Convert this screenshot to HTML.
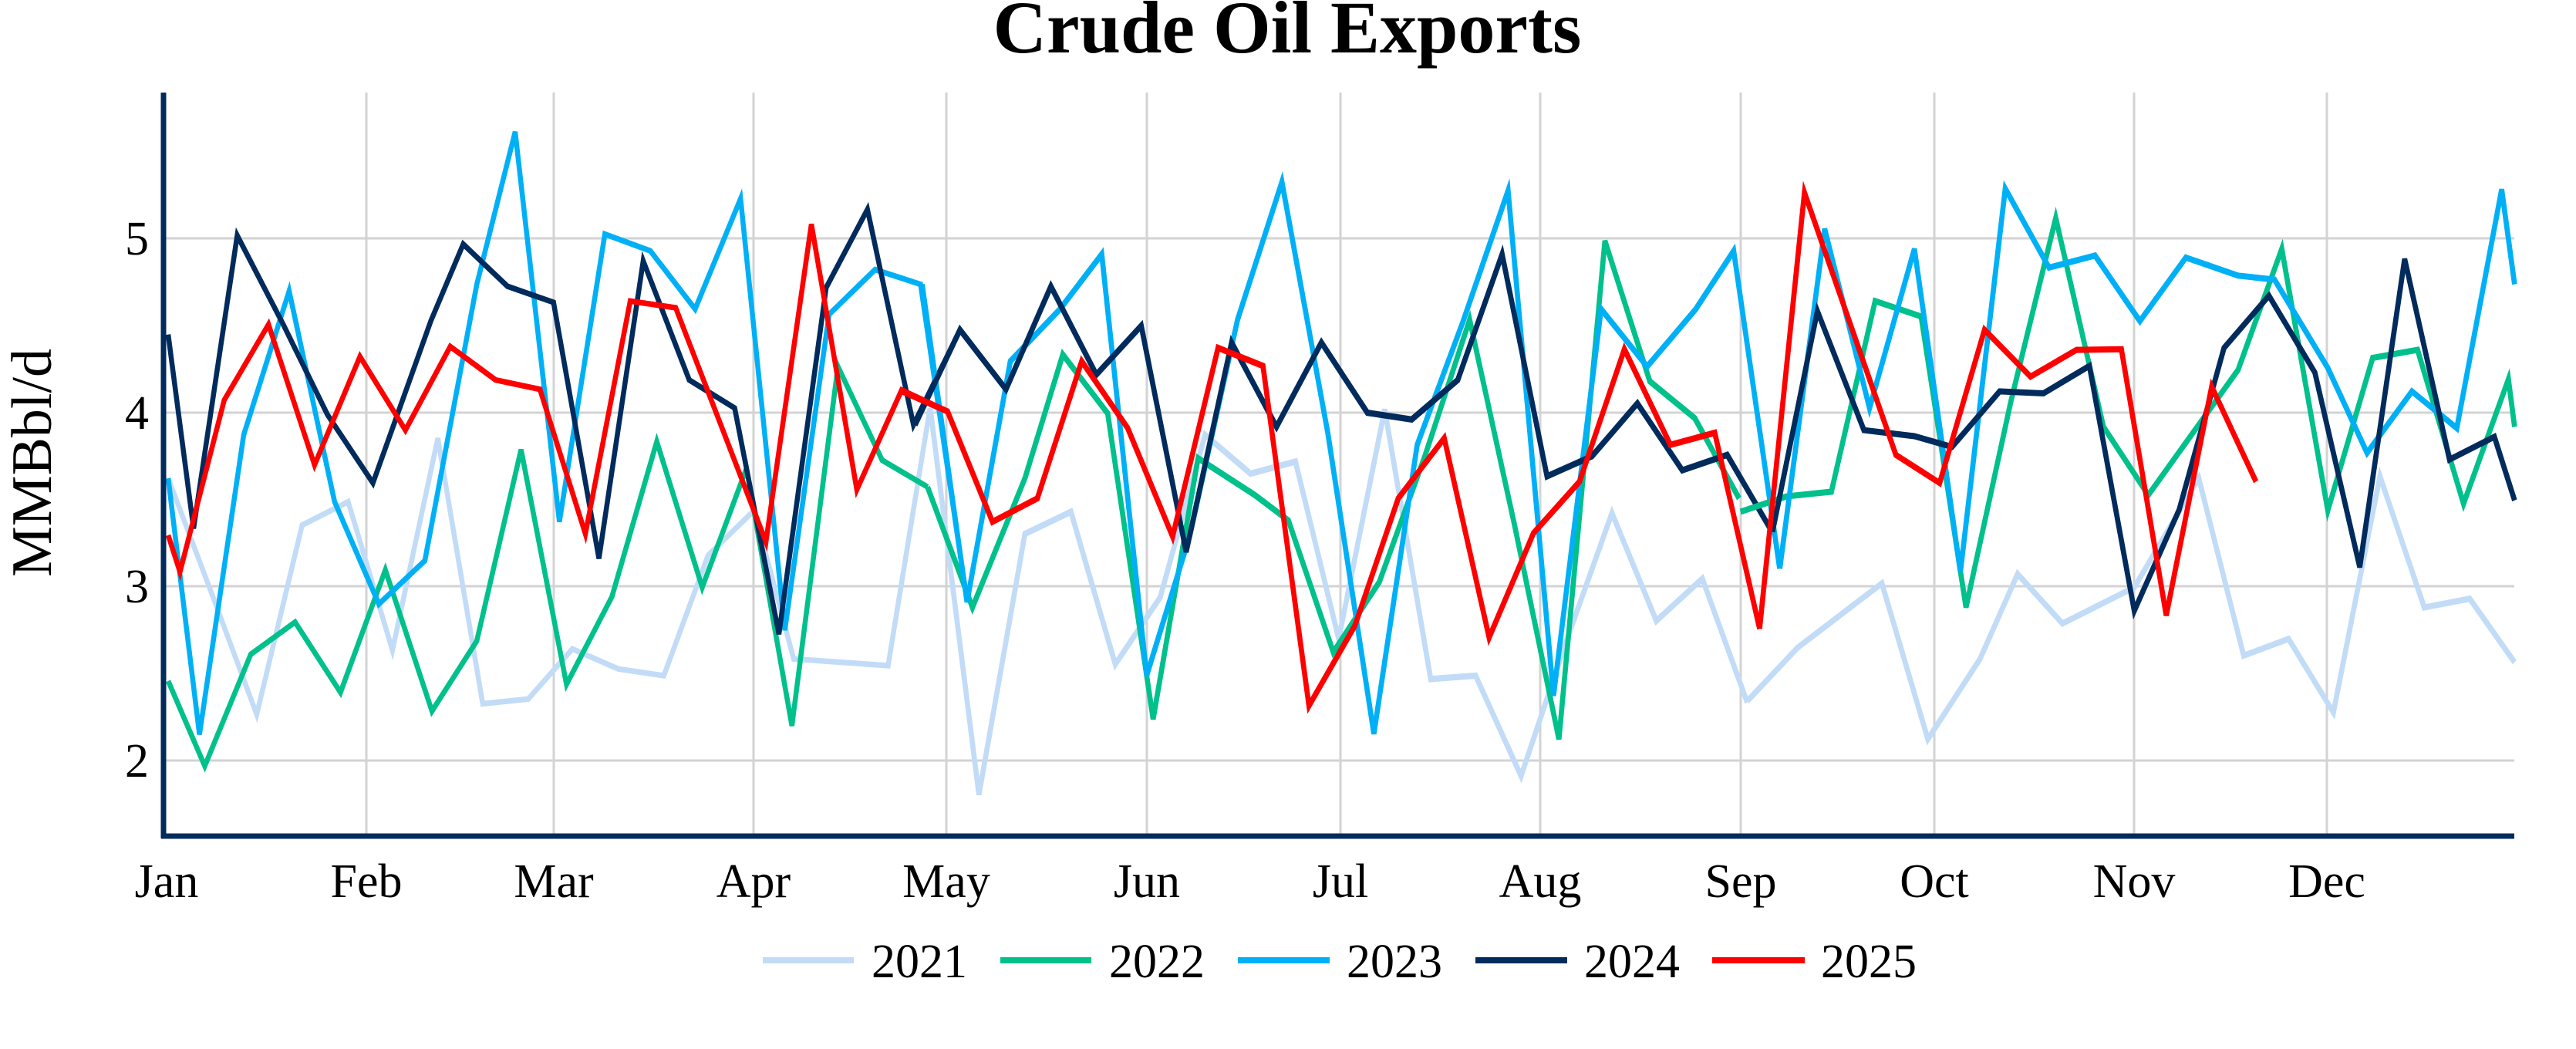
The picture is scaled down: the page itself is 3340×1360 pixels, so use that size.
<!DOCTYPE html>
<html><head><meta charset="utf-8"><style>
html,body{margin:0;padding:0;background:#fff;}
svg{display:block;}
text{font-family:"Liberation Serif",serif;fill:#000;}
</style></head><body>
<svg width="3340" height="1360" viewBox="0 0 3340 1360" xmlns="http://www.w3.org/2000/svg">
<rect width="3340" height="1360" fill="#fff"/>
<text x="1669" y="68" font-size="96" font-weight="bold" text-anchor="middle">Crude Oil Exports</text>
<g stroke="#d3d3d3" stroke-width="3">
<line x1="212" x2="3260" y1="309" y2="309"/>
<line x1="212" x2="3260" y1="535" y2="535"/>
<line x1="212" x2="3260" y1="760" y2="760"/>
<line x1="212" x2="3260" y1="986" y2="986"/>
<line x1="475" x2="475" y1="120" y2="1084"/>
<line x1="718" x2="718" y1="120" y2="1084"/>
<line x1="977" x2="977" y1="120" y2="1084"/>
<line x1="1227" x2="1227" y1="120" y2="1084"/>
<line x1="1487" x2="1487" y1="120" y2="1084"/>
<line x1="1738" x2="1738" y1="120" y2="1084"/>
<line x1="1997" x2="1997" y1="120" y2="1084"/>
<line x1="2257" x2="2257" y1="120" y2="1084"/>
<line x1="2508" x2="2508" y1="120" y2="1084"/>
<line x1="2767" x2="2767" y1="120" y2="1084"/>
<line x1="3017" x2="3017" y1="120" y2="1084"/>
</g>
<g fill="none" stroke-linejoin="miter" stroke-linecap="butt">
<g transform="scale(0.76511,0.86730)" stroke-width="8.5">
<polyline stroke="#c2dcf7" points="285,715 360,890 435,1068 512,785 590,750 665,972 742,655 818,1052 895,1045 970,970 1048,1000 1125,1010 1200,830 1278,763 1345,985 1505,995 1576,610"/>
<polyline stroke="#00c08b" points="285,1018 347,1145 425,978 500,930 577,1035 653,852 732,1063 808,958 883,672 960,1023 1037,892 1113,660 1190,878 1265,700 1342,1085 1420,548 1495,688 1572,728"/>
<polyline stroke="#00b0f6" points="285,715 338,1098 413,650 490,435 567,750 642,903 720,838 808,425 873,197 948,780 1025,350 1102,375 1178,462 1255,297 1330,942 1405,470 1483,403 1560,425 1639,900"/>
<polyline stroke="#002b5c" points="285,500 328,790 402,352 480,485 555,620 632,722 730,480 785,365 860,428 938,452 1015,835 1090,390 1168,568 1245,610 1320,948 1400,430 1470,313 1548,635 1627,493"/>
<polyline stroke="#ff0000" points="285,800 305,855 380,598 455,485 533,695 610,533 687,643 763,518 840,568 915,582 992,798 1068,450 1145,460 1298,810 1375,335 1452,732 1528,583 1606,615"/>
</g>
<g transform="translate(1150,0) scale(0.70151,0.86730)" stroke-width="9.5">
<polyline stroke="#c2dcf7" points="80,610 170,1188 255,798 340,765 422,993 505,893 588,650 672,708 755,690 835,955 920,612 1005,1015 1088,1010 1172,1160 1255,960 1340,767 1422,928 1507,865 1590,1050"/>
<polyline stroke="#00c08b" points="75,728 158,908 255,715 325,530 408,618 492,1075 575,685 680,740 742,778 825,975 910,870 995,680 1077,478 1160,785 1242,1105 1327,360 1410,570 1493,625 1575,745"/>
<polyline stroke="#00b0f6" points="65,425 148,900 228,540 320,462 397,380 480,1010 560,800 648,478 730,272 815,648 900,1097 980,665 1065,480 1148,285 1232,1040 1320,462 1405,548 1495,462 1565,375 1650,850"/>
<polyline stroke="#002b5c" points="52,635 135,493 220,582 303,428 387,560 470,487 553,825 637,512 720,638 803,512 888,617 970,627 1055,568 1137,380 1220,712 1303,682 1387,603 1470,703 1553,680 1636,795"/>
<polyline stroke="#ff0000" points="28,585 112,615 195,780 278,745 360,540 445,640 528,802 612,520 695,547 780,1055 865,935 945,745 1030,655 1113,953 1195,797 1280,720 1363,522 1448,665 1530,647 1613,940"/>
</g>
<g transform="translate(2200,0) scale(0.72727,0.86730)" stroke-width="9.2">
<polyline stroke="#c2dcf7" points="90,1048 180,968 330,872 412,1105 505,985 572,858 652,932 780,878 895,715 975,980 1055,955 1135,1065 1218,712 1297,908 1378,895 1458,990"/>
<polyline stroke="#00c08b" points="78,765 160,742 240,735 318,450 400,473 480,908 560,600 640,326 725,638 805,740 965,553 1043,372 1125,763 1205,535 1285,523 1367,753 1447,567 1458,638"/>
<polyline stroke="#00b0f6" points="148,850 228,342 308,610 388,372 470,855 550,282 628,400 710,382 790,480 872,385 965,412 1030,418 1125,550 1195,677 1275,585 1355,640 1435,283 1458,425"/>
<polyline stroke="#002b5c" points="135,795 215,465 298,643 388,652 455,668 540,585 618,588 700,547 780,913 860,762 940,520 1020,442 1102,557 1182,848 1262,387 1342,687 1422,653 1458,748"/>
<polyline stroke="#ff0000" points="112,940 192,288 355,680 433,722 513,493 595,563 677,523 757,522 837,920 918,578 997,720"/>
</g>
</g>
<g stroke="#002b5c" stroke-width="7">
<line x1="212" x2="212" y1="120" y2="1087"/>
<line x1="209" x2="3260" y1="1084" y2="1084"/>
</g>
<g font-size="62" text-anchor="end">
<text x="193" y="330">5</text>
<text x="193" y="556">4</text>
<text x="193" y="781">3</text>
<text x="193" y="1007">2</text>
</g>
<g font-size="62" text-anchor="middle">
<text x="216" y="1163">Jan</text>
<text x="475" y="1163">Feb</text>
<text x="718" y="1163">Mar</text>
<text x="977" y="1163">Apr</text>
<text x="1227" y="1163">May</text>
<text x="1487" y="1163">Jun</text>
<text x="1738" y="1163">Jul</text>
<text x="1997" y="1163">Aug</text>
<text x="2257" y="1163">Sep</text>
<text x="2508" y="1163">Oct</text>
<text x="2767" y="1163">Nov</text>
<text x="3017" y="1163">Dec</text>
</g>
<text transform="translate(66,600) rotate(-90)" font-size="74" text-anchor="middle">MMBbl/d</text>
<g stroke-width="8">
<line x1="989" x2="1107" y1="1245" y2="1245" stroke="#c2dcf7"/>
<line x1="1297" x2="1415" y1="1245" y2="1245" stroke="#00c08b"/>
<line x1="1605" x2="1724" y1="1245" y2="1245" stroke="#00b0f6"/>
<line x1="1913" x2="2032" y1="1245" y2="1245" stroke="#002b5c"/>
<line x1="2220" x2="2340" y1="1245" y2="1245" stroke="#ff0000"/>
</g>
<g font-size="62">
<text x="1130" y="1267">2021</text>
<text x="1438" y="1267">2022</text>
<text x="1746" y="1267">2023</text>
<text x="2054" y="1267">2024</text>
<text x="2361" y="1267">2025</text>
</g>
</svg>
</body></html>
